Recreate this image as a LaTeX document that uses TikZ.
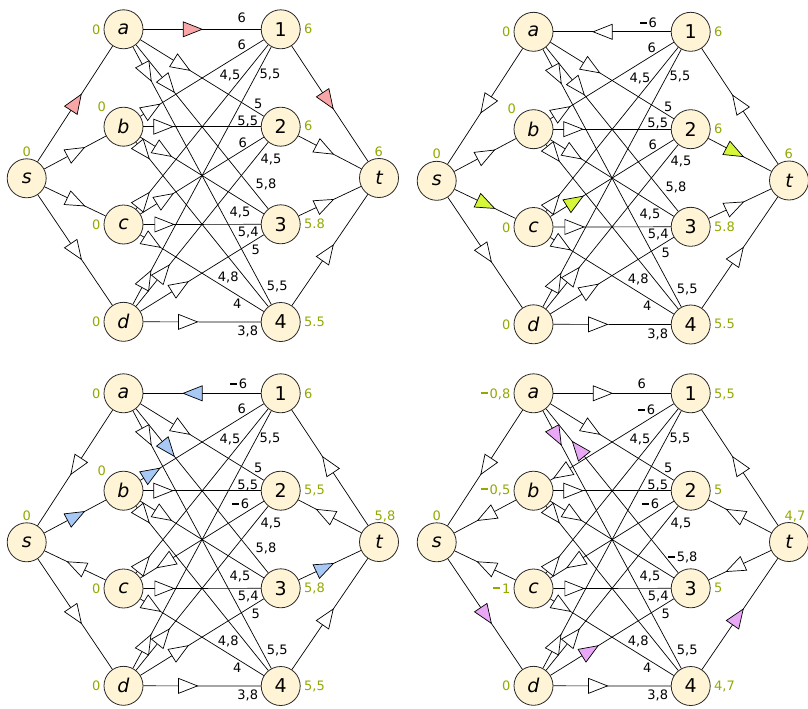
\documentclass[tikz,border=0pt]{standalone}
\usepackage{fontspec}
\setmainfont{DejaVu Sans}
\usetikzlibrary{decorations.markings}
\definecolor{vfill}{RGB}{255,245,214}
\definecolor{vdraw}{RGB}{40,40,40}
\definecolor{pot}{RGB}{148,168,0}
\definecolor{hpink}{RGB}{248,166,168}
\definecolor{hyel}{RGB}{214,246,58}
\definecolor{hblue}{RGB}{168,200,246}
\definecolor{hviol}{RGB}{232,168,246}
\newcommand\mn{\rule[0.27em]{0.55em}{0.17em}\kern0.13em}
\tikzset{
 vtx/.style={circle, draw=vdraw, fill=vfill, line width=0.8pt, minimum size=39pt, inner sep=0pt, font=\fontsize{19}{19}\selectfont},
 eline/.style={draw=black, line width=0.7pt},
 tri/.style={draw=black, line width=0.7pt, line join=miter},
 wlab/.style={inner sep=0pt, text height=9.4pt, text depth=0pt, font=\fontsize{13}{13}\selectfont},
 plab/.style={wlab, text=pot},
}
\newcommand\E[5]{%
 \draw[eline] (#1) -- (#2);
 \path[decoration={markings, mark=at position #3 with {\draw[tri, fill=#5, xscale=#4] (-9.5pt,-7.5pt) -- (9.5pt,0pt) -- (-9.5pt,7.5pt) -- cycle;}}, decorate] (#1.center) -- (#2.center);}
\newcommand\Vtx[1]{%
 \node[vtx] (#1s) at (26.7,178.3) {\itshape s};
 \node[vtx] (#1a) at (123.5,29.3) {\itshape a};
 \node[vtx] (#1b) at (123.5,126.7) {\itshape b};
 \node[vtx] (#1c) at (123.5,224.5) {\itshape c};
 \node[vtx] (#1d) at (123.5,321.8) {\itshape d};
 \node[vtx] (#11) at (280.7,29.3) {1};
 \node[vtx] (#12) at (280.7,126.7) {2};
 \node[vtx] (#13) at (280.7,224.3) {3};
 \node[vtx] (#14) at (280.7,322) {4};
 \node[vtx] (#1t) at (379,178) {\itshape t};}
\newcommand\CommonLabs[1]{%
 \node[wlab] (#1lc1) at (230,75) {4,5};
 \node[wlab] (#1ld1) at (270,73.3) {5,5};
 \node[wlab] (#1la2) at (258.3,104) {5};
 \node[wlab] (#1lb2) at (247.7,120.7) {5,5};
 \node[wlab] (#1ld2) at (271,158.3) {4,5};
 \node[wlab] (#1lb3) at (240,211.7) {4,5};
 \node[wlab] (#1lc3) at (248.3,231.7) {5,4};
 \node[wlab] (#1ld3) at (255.7,250) {5};
 \node[wlab] (#1lb4) at (228.3,276.7) {4,8};
 \node[wlab] (#1la4) at (277.3,286) {5,5};
 \node[wlab] (#1lc4) at (237.3,303.3) {4};
 \node[wlab] (#1ld4) at (247.7,331) {3,8};}
\begin{document}
\begin{tikzpicture}[x=1pt,y=-1pt]
\useasboundingbox (0,0) rectangle (808,709);
% ---------------- panel A
\begin{scope}
\Vtx{A}
\E{As}{Aa}{0.51}{1}{hpink}
\E{As}{Ab}{0.51}{1}{white}
\E{As}{Ac}{0.51}{1}{white}
\E{As}{Ad}{0.51}{1}{white}
\E{Aa}{A1}{0.44}{1}{hpink}
\E{Aa}{A2}{0.37}{1}{white}
\E{Aa}{A3}{0.285}{1}{white}
\E{Aa}{A4}{0.148}{1}{white}
\E{Ab}{A1}{0.18}{1}{white}
\E{Ab}{A2}{0.253}{1}{white}
\E{Ab}{A3}{0.253}{1}{white}
\E{Ab}{A4}{0.126}{1}{white}
\E{Ac}{A1}{0.126}{1}{white}
\E{Ac}{A2}{0.264}{1}{white}
\E{Ac}{A3}{0.26}{1}{white}
\E{Ac}{A4}{0.183}{1}{white}
\E{Ad}{A1}{0.146}{1}{white}
\E{Ad}{A2}{0.253}{1}{white}
\E{Ad}{A3}{0.36}{1}{white}
\E{Ad}{A4}{0.41}{1}{white}
\E{A1}{At}{0.48}{1}{hpink}
\E{A2}{At}{0.45}{1}{white}
\E{A3}{At}{0.45}{1}{white}
\E{A4}{At}{0.48}{1}{white}
\CommonLabs{A}
\node[wlab] (Ala1) at (241.7,18.3) {6};
\node[wlab] (Alb1) at (241.7,45) {6};
\node[wlab] (Alc2) at (242.7,142.7) {6};
\node[wlab] (Ala3) at (266,184) {5,8};
\node[plab] (Aps) at (26.7,151.5) {0};
\node[plab, anchor=west] (Apt) at (374.5,151.7) {6};
\node[plab, anchor=east] (Apa) at (100.5,29.8) {0};
\node[plab] (Apb) at (101.7,106.7) {0};
\node[plab, anchor=east] (Apc) at (100.5,225) {0};
\node[plab, anchor=east] (Apd) at (100.5,322) {0};
\node[plab, anchor=west] (Ap1) at (304,29.3) {6};
\node[plab, anchor=west] (Ap2) at (304,126) {6};
\node[plab, anchor=west] (Ap3) at (304,224) {5.8};
\node[plab, anchor=west] (Ap4) at (304,321.7) {5.5};
\end{scope}
% ---------------- panel B
\begin{scope}[shift={(410,2.5)}]
\Vtx{B}
\E{Bs}{Ba}{0.51}{-1}{white}
\E{Bs}{Bb}{0.51}{1}{white}
\E{Bs}{Bc}{0.51}{1}{hyel}
\E{Bs}{Bd}{0.51}{1}{white}
\E{Ba}{B1}{0.44}{-1}{white}
\E{Ba}{B2}{0.37}{1}{white}
\E{Ba}{B3}{0.285}{1}{white}
\E{Ba}{B4}{0.148}{1}{white}
\E{Bb}{B1}{0.18}{1}{white}
\E{Bb}{B2}{0.253}{1}{white}
\E{Bb}{B3}{0.253}{1}{white}
\E{Bb}{B4}{0.126}{1}{white}
\E{Bc}{B1}{0.126}{1}{white}
\E{Bc}{B2}{0.264}{1}{hyel}
\E{Bc}{B3}{0.26}{1}{white}
\E{Bc}{B4}{0.183}{1}{white}
\E{Bd}{B1}{0.146}{1}{white}
\E{Bd}{B2}{0.253}{1}{white}
\E{Bd}{B3}{0.36}{1}{white}
\E{Bd}{B4}{0.41}{1}{white}
\E{B1}{Bt}{0.48}{-1}{white}
\E{B2}{Bt}{0.45}{1}{hyel}
\E{B3}{Bt}{0.45}{1}{white}
\E{B4}{Bt}{0.48}{1}{white}
\CommonLabs{B}
\node[wlab] (Bla1) at (238.3,20.2) {\mn6};
\node[wlab] (Blb1) at (241.7,45) {6};
\node[wlab] (Blc2) at (242.7,142.7) {6};
\node[wlab] (Bla3) at (266,184) {5,8};
\node[plab] (Bps) at (26.7,151.5) {0};
\node[plab, anchor=west] (Bpt) at (374.5,151.7) {6};
\node[plab, anchor=east] (Bpa) at (100.5,29.8) {0};
\node[plab] (Bpb) at (101.7,106.7) {0};
\node[plab, anchor=east] (Bpc) at (100.5,225) {0};
\node[plab, anchor=east] (Bpd) at (100.5,322) {0};
\node[plab, anchor=west] (Bp1) at (304,29.3) {6};
\node[plab, anchor=west] (Bp2) at (304,126) {6};
\node[plab, anchor=west] (Bp3) at (304,224) {5.8};
\node[plab, anchor=west] (Bp4) at (304,321.7) {5.5};
\end{scope}
% ---------------- panel C
\begin{scope}[shift={(0,364)}]
\Vtx{C}
\E{Cs}{Ca}{0.51}{-1}{white}
\E{Cs}{Cb}{0.51}{1}{hblue}
\E{Cs}{Cc}{0.51}{-1}{white}
\E{Cs}{Cd}{0.51}{1}{white}
\E{Ca}{C1}{0.44}{-1}{hblue}
\E{Ca}{C2}{0.37}{1}{white}
\E{Ca}{C3}{0.285}{1}{hblue}
\E{Ca}{C4}{0.148}{1}{white}
\E{Cb}{C1}{0.18}{1}{hblue}
\E{Cb}{C2}{0.253}{1}{white}
\E{Cb}{C3}{0.253}{1}{white}
\E{Cb}{C4}{0.126}{1}{white}
\E{Cc}{C1}{0.126}{1}{white}
\E{Cc}{C2}{0.264}{-1}{white}
\E{Cc}{C3}{0.26}{1}{white}
\E{Cc}{C4}{0.183}{1}{white}
\E{Cd}{C1}{0.146}{1}{white}
\E{Cd}{C2}{0.253}{1}{white}
\E{Cd}{C3}{0.36}{1}{white}
\E{Cd}{C4}{0.41}{1}{white}
\E{C1}{Ct}{0.48}{-1}{white}
\E{C2}{Ct}{0.45}{-1}{white}
\E{C3}{Ct}{0.45}{1}{hblue}
\E{C4}{Ct}{0.48}{1}{white}
\CommonLabs{C}
\node[wlab] (Cla1) at (238.7,20) {\mn6};
\node[wlab] (Clb1) at (241.7,45) {6};
\node[wlab] (Clc2) at (240.7,140) {\mn6};
\node[wlab] (Cla3) at (266,184) {5,8};
\node[plab] (Cps) at (26.7,151.5) {0};
\node[plab, anchor=west] (Cpt) at (374.5,151.7) {5,8};
\node[plab, anchor=east] (Cpa) at (100.5,29.8) {0};
\node[plab] (Cpb) at (101.7,106.7) {0};
\node[plab, anchor=east] (Cpc) at (100.5,225) {0};
\node[plab, anchor=east] (Cpd) at (100.5,322) {0};
\node[plab, anchor=west] (Cp1) at (304,29.3) {6};
\node[plab, anchor=west] (Cp2) at (304,126) {5,5};
\node[plab, anchor=west] (Cp3) at (304,224) {5,8};
\node[plab, anchor=west] (Cp4) at (304,321.7) {5,5};
\end{scope}
% ---------------- panel D
\begin{scope}[shift={(410,364)}]
\Vtx{D}
\E{Ds}{Da}{0.51}{-1}{white}
\E{Ds}{Db}{0.51}{-1}{white}
\E{Ds}{Dc}{0.51}{-1}{white}
\E{Ds}{Dd}{0.51}{1}{hviol}
\E{Da}{D1}{0.44}{1}{white}
\E{Da}{D2}{0.37}{1}{white}
\E{Da}{D3}{0.285}{-1}{hviol}
\E{Da}{D4}{0.148}{1}{hviol}
\E{Db}{D1}{0.18}{-1}{white}
\E{Db}{D2}{0.253}{1}{white}
\E{Db}{D3}{0.253}{1}{white}
\E{Db}{D4}{0.126}{1}{white}
\E{Dc}{D1}{0.126}{1}{white}
\E{Dc}{D2}{0.264}{-1}{white}
\E{Dc}{D3}{0.26}{1}{white}
\E{Dc}{D4}{0.183}{1}{white}
\E{Dd}{D1}{0.146}{1}{white}
\E{Dd}{D2}{0.253}{1}{white}
\E{Dd}{D3}{0.36}{1}{hviol}
\E{Dd}{D4}{0.41}{1}{white}
\E{D1}{Dt}{0.48}{-1}{white}
\E{D2}{Dt}{0.45}{-1}{white}
\E{D3}{Dt}{0.45}{-1}{white}
\E{D4}{Dt}{0.48}{1}{hviol}
\CommonLabs{D}
\node[wlab] (Dla1) at (231.7,20) {6};
\node[wlab] (Dlb1) at (236.7,46) {\mn6};
\node[wlab] (Dlc2) at (240.7,140) {\mn6};
\node[wlab] (Dla3) at (272.7,192.7) {\mn5,8};
\node[plab] (Dps) at (26.7,151.5) {0};
\node[plab, anchor=west] (Dpt) at (374.5,151.7) {4,7};
\node[plab, anchor=east] (Dpa) at (100.5,29.3) {\mn0,8};
\node[plab, anchor=east] (Dpb) at (100.5,125.3) {\mn0,5};
\node[plab, anchor=east] (Dpc) at (100.5,224.3) {\mn1};
\node[plab, anchor=east] (Dpd) at (100.5,322) {0};
\node[plab, anchor=west] (Dp1) at (304,29.3) {5,5};
\node[plab, anchor=west] (Dp2) at (304,126) {5};
\node[plab, anchor=west] (Dp3) at (304,224) {5};
\node[plab, anchor=west] (Dp4) at (304,321.7) {4,7};
\end{scope}
\end{tikzpicture}
\end{document}
